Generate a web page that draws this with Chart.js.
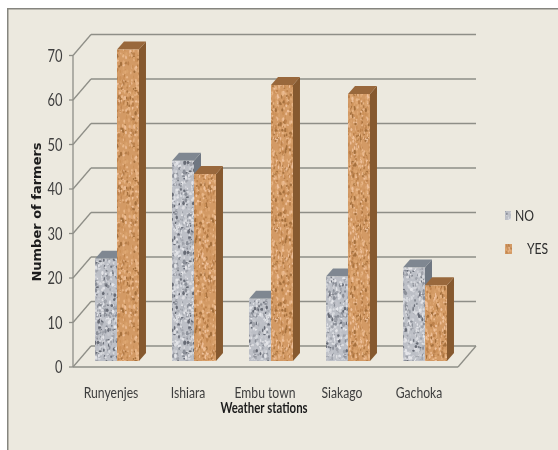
<!DOCTYPE html>
<html>
<head>
<meta charset="utf-8">
<style>
  html, body { margin: 0; padding: 0; background: #fff; }
  #wrap { width: 558px; height: 450px; }
  canvas { filter: blur(0.4px); }
</style>
<script src="https://cdn.jsdelivr.net/npm/chart.js@4/dist/chart.umd.min.js"></script>
</head>
<body>
<div id="wrap"><canvas id="chart" width="558" height="450"></canvas></div>
<script>
// Values
const stations = ['Runyenjes', 'Ishiara', 'Embu town', 'Siakago', 'Gachoka'];
const noValues = [23, 45, 14, 19, 21];
const yesValues = [70, 42, 62, 60, 17];
const seriesNames = ['NO', 'YES'];
const xTitle = 'Weather stations';
const yTitle = 'Number of farmers';

// The original labels are a squeezed Calibri, so Lato gets narrowed when it is drawn
const narrowFont = 'Lato, sans-serif';
const squeeze = 0.76;

// Speckled texture tile, seeded so it comes out the same every time
function makeTexture(base, speckles, stretch, blur, sizeMax) {
    const size = 90;
    const c = document.createElement('canvas');
    c.width = c.height = size;
    const g = c.getContext('2d');
    g.fillStyle = base;
    g.fillRect(0, 0, size, size);
    let seed = 12345;
    const next = () => {
        seed = (seed * 1103515245 + 12345) & 0x7fffffff;
        return seed / 0x7fffffff;
    };
    g.filter = 'blur(' + blur + 'px)';
    for (let i = 0; i < 1400; i++) {
        g.fillStyle = speckles[Math.floor(next() * speckles.length)];
        g.beginPath();
        g.ellipse(next() * size, next() * size, 0.5 + next() * sizeMax, (0.5 + next() * sizeMax) * stretch, 0, 0, Math.PI * 2);
        g.fill();
    }
    return document.createElement('canvas').getContext('2d').createPattern(c, 'repeat');
}

const granite = makeTexture('#bcbfc6', ['#d6d8dd', '#e4e5e9', '#a0a3ab', '#c6c8ce', '#8b8f98', '#dcdde1', '#676b75', '#c0c2c9'], 1.4, 0.5, 1.1);
const cork = makeTexture('#d39a65', ['#dfa874', '#e8b688', '#bd824c', '#d9a26c', '#a5703d', '#cc9159', '#eec09a'], 1.8, 0.4, 0.8);

// Faces of the 3d look: [side, top]
const faceColors = [['#6f7782', '#7f8791'], ['#86592f', '#99683c']];

// Bars sit in a middle plane, axis in front of it and wall behind it
const barDepth = { x: 7, y: -8 };
const frontShift = { x: -5.5, y: 6 };
const backShift = { x: 12.5, y: -15 };
const gridColor = '#8e8e87';

function line(ctx, x1, y1, x2, y2) {
    ctx.beginPath();
    ctx.moveTo(x1, y1);
    ctx.lineTo(x2, y2);
    ctx.stroke();
}

function poly(ctx, pts, fill) {
    ctx.fillStyle = fill;
    ctx.beginPath();
    pts.forEach((p, i) => i ? ctx.lineTo(p[0], p[1]) : ctx.moveTo(p[0], p[1]));
    ctx.closePath();
    ctx.fill();
}

// Side and top faces for one series
function drawDepth(chart, meta, colors) {
    const ctx = chart.ctx;
    const base = chart.scales.y.getPixelForValue(0);
    ctx.save();
    meta.data.forEach(bar => {
        const p = bar.getProps(['x', 'y', 'width']);
        const l = p.x - p.width / 2, r = p.x + p.width / 2;
        poly(ctx, [[r, p.y], [r + barDepth.x, p.y + barDepth.y], [r + barDepth.x, base + barDepth.y], [r, base]], colors[0]);
        poly(ctx, [[l, p.y], [l + barDepth.x, p.y + barDepth.y], [r + barDepth.x, p.y + barDepth.y], [r, p.y]], colors[1]);
    });
    ctx.restore();
}

const scene3d = {
    id: 'scene3d',
    beforeDraw(chart) {
        const ctx = chart.ctx;
        ctx.save();
        ctx.fillStyle = '#ece9df';
        ctx.fillRect(7, 9, 551, 441);
        ctx.fillStyle = '#85857f';
        ctx.fillRect(7, 8, 551, 1.5);
        ctx.fillRect(7, 8, 1.5, 442);
        ctx.restore();
    },
    beforeDatasetsDraw(chart) {
        const ctx = chart.ctx;
        const y = chart.scales.y;
        const a = chart.chartArea;
        const fx = a.left + frontShift.x, bx = a.left + backShift.x;
        const right = a.right + backShift.x;
        ctx.save();
        ctx.strokeStyle = gridColor;
        ctx.lineWidth = 1.3;
        y.ticks.forEach(t => {
            const p = y.getPixelForValue(t.value);
            line(ctx, fx - 4, p + frontShift.y, fx, p + frontShift.y);
            line(ctx, fx, p + frontShift.y, bx, p + backShift.y);
            line(ctx, bx, p + backShift.y, right, p + backShift.y);
        });
        const top = y.getPixelForValue(y.max) + frontShift.y;
        const zero = y.getPixelForValue(0);
        line(ctx, fx, top, fx, zero + frontShift.y);
        // floor edge
        line(ctx, fx, zero + frontShift.y, a.right + frontShift.x, zero + frontShift.y);
        line(ctx, a.right + frontShift.x, zero + frontShift.y, right, zero + backShift.y);
        ctx.restore();
    },
    // Chart.js paints the first dataset last, but here YES has to cover NO.
    // So NO goes first and YES is painted right after it.
    beforeDatasetDraw(chart, args) {
        if (args.index === 1) return false;
        drawDepth(chart, args.meta, faceColors[0]);
    },
    afterDatasetDraw(chart, args) {
        if (args.index !== 0) return;
        const yes = chart.getDatasetMeta(1);
        drawDepth(chart, yes, faceColors[1]);
        yes.controller.draw();
    },
    afterDraw(chart) {
        const ctx = chart.ctx;
        ctx.save();
        // axis titles
        ctx.textAlign = 'center';
        ctx.textBaseline = 'middle';
        ctx.fillStyle = '#1c1c1c';
        ctx.font = 'bold 15px ' + narrowFont;
        ctx.fillText(xTitle, 264, 408);
        ctx.save();
        ctx.translate(38, 212);
        ctx.rotate(-Math.PI / 2);
        ctx.font = 'bold 13px "DejaVu Sans", sans-serif';
        ctx.fillText(yTitle, 0, 0);
        ctx.restore();
        // legend, the two labels do not line up in the original
        ctx.textAlign = 'left';
        ctx.font = '16px ' + narrowFont;
        ctx.fillStyle = granite;
        ctx.fillRect(505, 211, 6, 9);
        ctx.fillStyle = cork;
        ctx.fillRect(505, 244, 7, 10);
        ctx.fillStyle = '#2e2e2e';
        ctx.fillText(seriesNames[0], 515, 216);
        ctx.fillText(seriesNames[1], 527, 249);
        ctx.restore();
    }
};

const canvas = document.getElementById('chart');
const context = canvas.getContext('2d');
const plainFillText = context.fillText;
context.fillText = function (text, x, y) {
    if (!this.font.includes('Lato')) return plainFillText.call(this, text, x, y);
    this.save();
    this.translate(x, y);
    this.scale(squeeze, 1);
    plainFillText.call(this, text, 0, 0);
    this.restore();
};

new Chart(context, {
    type: 'bar',
    data: {
        labels: stations,
        datasets: [
            { label: seriesNames[0], data: noValues, backgroundColor: granite },
            { label: seriesNames[1], data: yesValues, backgroundColor: cork }
        ]
    },
    options: {
        responsive: false,
        animation: false,
        layout: { padding: { top: 49.5, right: 94.5, left: 0, bottom: 0 } },
        categoryPercentage: 0.571,
        barPercentage: 1,
        plugins: { legend: { display: false }, tooltip: { enabled: false } },
        scales: {
            x: {
                grid: { display: false, drawTicks: false },
                border: { display: false },
                afterFit(s) { s.height = 89; },
                ticks: {
                    padding: 22,
                    labelOffset: -6,
                    maxRotation: 0,
                    autoSkip: false,
                    color: '#3e3e3e',
                    font: { family: narrowFont, size: 16 }
                }
            },
            y: {
                min: 0,
                max: 70,
                grid: { display: false, drawTicks: false },
                border: { display: false },
                afterFit(s) { s.width = 78.5; },
                ticks: {
                    stepSize: 10,
                    padding: 16,
                    labelOffset: 7,
                    autoSkip: false,
                    color: '#3e3e3e',
                    font: { family: narrowFont, size: 17 }
                }
            }
        }
    },
    plugins: [scene3d]
});
</script>
</body>
</html>
